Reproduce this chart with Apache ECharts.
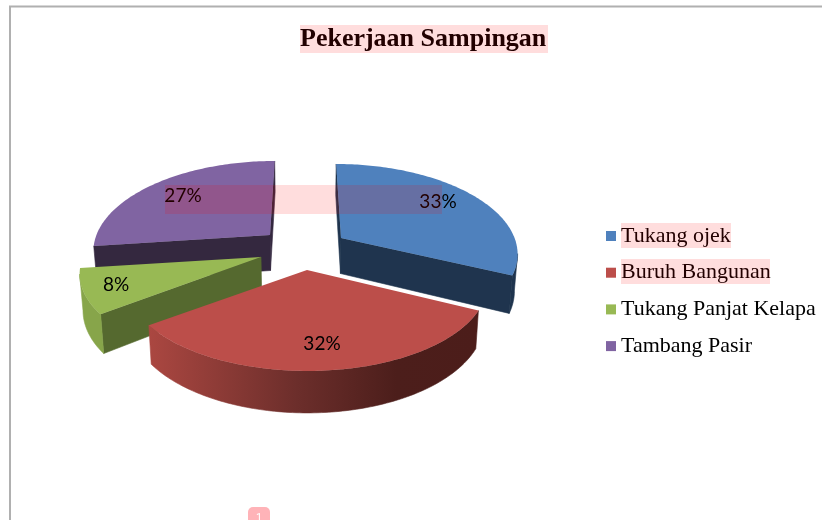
<!DOCTYPE html>
<html><head><meta charset="utf-8">
<style>html,body{margin:0;padding:0;background:#fff}#c{width:822px;height:520px}</style>
<script src="https://cdn.jsdelivr.net/npm/echarts@6/dist/echarts.min.js"></script>
</head><body><div id="c"></div>
<script>
// Data
const chartTitle = 'Pekerjaan Sampingan';
const categories = ['Tukang ojek', 'Buruh Bangunan', 'Tukang Panjat Kelapa', 'Tambang Pasir'];
const shares = [33, 32, 8, 27];

// Styles and layout
const topColors = ['#4f81bd', '#bc4e4a', '#98b954', '#8064a2'];
const wallColors = ['#1f344e', '#4c1d1a', '#55692f', '#34283f'];
const rimColors = [
  '#1f344e',
  {type:'linear',x:0,y:0,x2:1,y2:0,colorStops:[
    {offset:0,color:'#ab4741'},{offset:.45,color:'#6c2e2b'},{offset:.75,color:'#4c1e1b'},{offset:1,color:'#4c1d1a'}]},
  '#87a54a',
  '#34283f'
];
const apexes = [[341,238],[307,270],[261,257],[270,235]];   // exploded slice tips
const labelAt = [[438,202],[322,344],[116,285],[183,196]];
const zOf = [3,5,4,2];                                       // paint order, back to front
const widthScale = [0.975,1,1,0.975];                        // projection distortion per slice
const angleNudge = [[0,-4.5],[-2.5,0],[-1.5,0],[0,0]];       // degrees, start and end of each slice
const rx = 178, ry = 85.4, persp = 0.154, midX = 305, depth = 35.5, shrink = 0.985;

const total = shares.reduce((a,b)=>a+b,0);
function fromDisc(i,u,v){
  const s = 1/(1-persp*v), A = apexes[i];
  return [A[0]+(A[0]-midX)*(s-1)+rx*widthScale[i]*u*s, A[1]+ry*v*s, s];
}
function project(i, theta){
  return fromDisc(i,Math.sin(theta),-Math.cos(theta));
}
function lower(p){
  return [midX+(p[0]-midX)*shrink, p[1]+depth*p[2]];
}
function wall(a,b,fill){
  return {type:'polygon',shape:{points:[a.slice(0,2),b.slice(0,2),lower(b),lower(a)]},
    style:{fill,stroke:fill,lineWidth:0.6}};
}
function makeRender(i){
  return function(params, api){
    const before = shares.slice(0,i).reduce((a,b)=>a+b,0);
    const rad = Math.PI/180;
    const t1 = before/total*2*Math.PI + angleNudge[i][0]*rad;
    const t2 = (before+api.value(0))/total*2*Math.PI + angleNudge[i][1]*rad;
    const n = Math.max(6,Math.round((t2-t1)/rad));
    const arc = [];
    for(let k=0;k<=n;k++) arc.push(project(i,t1+(t2-t1)*k/n));
    const apex = fromDisc(i,0,0);
    const kids = [];
    // radial walls that face the viewer travel leftward along the outline
    if(arc[0][0]<apex[0]) kids.push(wall(apex,arc[0],wallColors[i]));
    if(apex[0]<arc[n][0]) kids.push(wall(arc[n],apex,wallColors[i]));
    // outer rim: only the part that travels leftward is visible
    const run = [];
    for(let k=0;k<n;k++) if(arc[k+1][0]<arc[k][0]){ if(!run.length) run.push(arc[k]); run.push(arc[k+1]); }
    if(run.length){
      const pts = run.map(p=>p.slice(0,2)).concat(run.slice().reverse().map(lower));
      kids.push({type:'polygon',shape:{points:pts},style:{fill:rimColors[i],stroke:rimColors[i],lineWidth:0.6}});
    }
    kids.push({type:'polygon',shape:{points:[apex.slice(0,2)].concat(arc.map(p=>p.slice(0,2)))},style:{fill:topColors[i]}});
    kids.push({type:'text',x:labelAt[i][0],y:labelAt[i][1],z2:20,style:{
      text:api.value(0)+'%',align:'center',verticalAlign:'middle',
      fontFamily:'Lato',fontSize:19,fill:'#000'}});
    return {type:'group',children:kids};
  };
}

const tint = 'rgba(255,0,0,0.133)';
const tintRects = [[300,25,248,28],[165,185,277,29],[621,223,110,25],[621,259,149,25]];

const chart = echarts.init(document.getElementById('c'),null,{renderer:'canvas'});
chart.setOption({
  animation:false,
  backgroundColor:'#fff',
  title:{text:chartTitle,top:26,padding:0,left:300,
    textStyle:{fontFamily:'Liberation Serif',fontWeight:'bold',fontSize:26,color:'#000'}},
  legend:{orient:'vertical',left:606,top:225,itemWidth:10,itemHeight:10,itemGap:14.7,padding:0,
    data:categories.map(name=>({name,icon:'rect'})),
    selectedMode:false,
    textStyle:{fontFamily:'Liberation Serif',fontSize:22,lineHeight:22,color:'#000'}},
  series:categories.map((name,i)=>({
    type:'custom',name,coordinateSystem:'none',z:zOf[i],
    itemStyle:{color:topColors[i]},
    renderItem:makeRender(i),
    data:[[shares[i]]],silent:true
  })),
  graphic:{elements:[
    {type:'polyline',z:50,shape:{points:[[10,530],[10,6.5],[830,6.5]]},style:{stroke:'#b0b0b0',lineWidth:2,fill:'none'}},
    {type:'rect',z:50,shape:{x:248,y:507,width:22,height:30,r:5},style:{fill:'#ffb3b8'}},
    {type:'text',z:51,x:259,y:513,style:{text:'1',fill:'#fff',fontFamily:'Roboto',fontSize:11,align:'center'}},
    ...tintRects.map(r=>({type:'rect',z:100,shape:{x:r[0],y:r[1],width:r[2],height:r[3]},style:{fill:tint}}))
  ]}
});
</script></body></html>
